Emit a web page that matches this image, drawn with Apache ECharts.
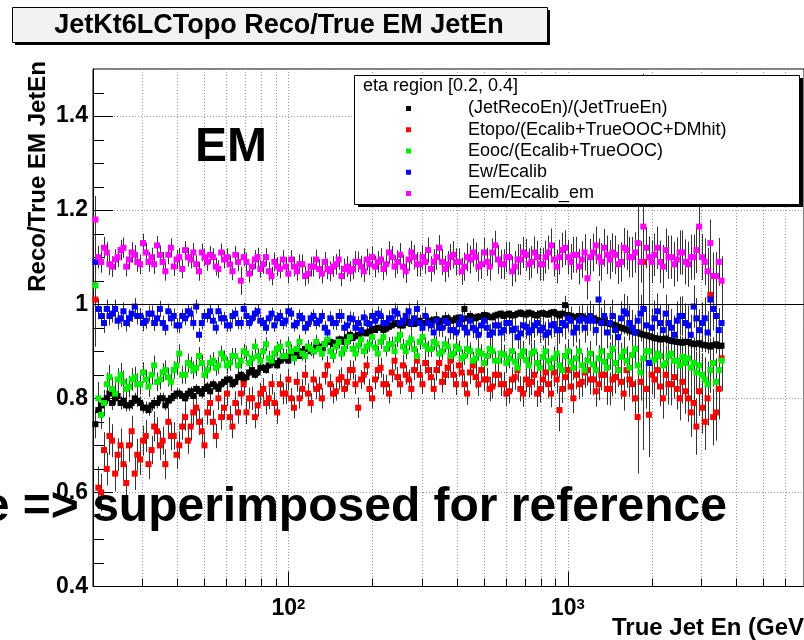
<!DOCTYPE html>
<html>
<head>
<meta charset="utf-8">
<script src="https://cdn.jsdelivr.net/npm/echarts@6/dist/echarts.min.js"></script>
<style>html,body{margin:0;padding:0;background:#fff}#c{width:804px;height:640px}</style>
</head>
<body>
<div id="c"></div>
<script>
// ---- data ----
const xs = [20.4,20.9,21.4,21.9,22.4,22.9,23.4,24.0,24.5,25.1,
25.7,26.3,26.9,27.5,28.2,28.8,29.5,30.2,30.9,31.6,
32.4,33.1,33.9,34.7,35.5,36.3,37.2,38.0,38.9,39.8,
40.7,41.7,42.7,43.7,44.7,45.7,46.8,47.9,49.0,50.1,
51.3,52.5,53.7,55.0,56.2,57.5,58.9,60.3,61.7,63.1,
64.6,66.1,67.6,69.2,70.8,72.4,74.1,75.9,77.6,79.4,
81.3,83.2,85.1,87.1,89.1,91.2,93.3,95.5,97.7,100,
102.3,104.7,107.2,109.6,112.2,114.8,117.5,120.2,123.0,125.9,
128.8,131.8,134.9,138.0,141.3,144.5,147.9,151.4,154.9,158.5,
162.2,166.0,169.8,173.8,177.8,182.0,186.2,190.5,195.0,199.5,
204.2,208.9,213.8,218.8,223.9,229.1,234.4,239.9,245.5,251.2,
257.0,263.0,269.2,275.4,281.8,288.4,295.1,302.0,309.0,316.2,
323.6,331.1,338.8,346.7,354.8,363.1,371.5,380.2,389.0,398.1,
407.4,416.9,426.6,436.5,446.7,457.1,467.7,478.6,489.8,501.2,
512.9,524.8,537.0,549.5,562.3,575.4,588.8,602.6,616.6,631.0,
645.7,660.7,676.1,691.8,707.9,724.4,741.3,758.6,776.2,794.3,
812.8,831.8,851.1,870.9,891.3,912.0,933.3,955.0,977.2,1000,
1023,1047,1072,1096,1122,1148,1175,1202,1230,1259,
1288,1318,1349,1380,1413,1445,1479,1514,1549,1585,
1622,1660,1698,1738,1778,1820,1862,1905,1950,1995,
2042,2089,2138,2188,2239,2291,2344,2399,2455,2512,
2570,2630,2692,2754,2818,2884,2951,3020,3090,3162,
3236,3311,3388,3467,3548];

const blackY = [.745,.775,.785,.795,.80,.81,.79,.80,.805,.79,
.795,.785,.785,.79,.80,.795,.79,.78,.78,.775,
.785,.79,.79,.80,.80,.785,.795,.80,.805,.81,
.81,.805,.80,.81,.815,.805,.82,.815,.81,.82,
.825,.815,.83,.825,.82,.83,.835,.84,.84,.83,
.835,.845,.85,.84,.845,.855,.86,.85,.855,.865,
.865,.86,.87,.875,.875,.87,.88,.885,.885,.88,
.89,.895,.895,.89,.90,.905,.905,.90,.90,.91,
.91,.905,.915,.92,.92,.915,.918,.925,.925,.92,
.93,.935,.928,.932,.935,.94,.94,.938,.942,.948,
.945,.95,.95,.945,.948,.952,.955,.958,.96,.955,
.955,.96,.962,.958,.958,.963,.965,.96,.96,.965,
.963,.967,.968,.962,.965,.97,.97,.965,.966,.97,
.972,.968,.99,.97,.975,.972,.97,.974,.973,.977,
.976,.973,.972,.976,.978,.98,.975,.978,.98,.976,
.977,.98,.982,.979,.978,.982,.98,.977,.976,.98,
.981,.979,.978,.982,.983,.979,.976,.98,.998,.977,
.975,.973,.972,.975,.974,.97,.968,.971,.97,.967,
.965,.963,.962,.96,.958,.957,.955,.952,.95,.948,
.946,.944,.942,.94,.94,.937,.935,.934,.932,.93,
.928,.927,.925,.926,.927,.924,.922,.921,.92,.919,
.918,.92,.92,.917,.915,.916,.917,.914,.913,.912,
.91,.913,.915,.911,.912];
const blackErr = [.03,.016,.015,.014,.012,.014,.015,.013,.012,.014,
.015,.013,.012,.014,.012,.013,.014,.012,.013,.012,
.012,.013,.011,.012,.012,.011,.012,.011,.011,.012,
.011,.01,.011,.012,.01,.011,.01,.011,.01,.011,
.01,.009,.01,.009,.01,.009,.009,.01,.009,.009,
.009,.008,.009,.008,.009,.008,.009,.008,.008,.009,
.008,.008,.007,.008,.008,.007,.008,.007,.007,.008,
.007,.007,.008,.007,.007,.007,.007,.007,.007,.007,
.007,.006,.007,.007,.006,.007,.007,.006,.007,.006,
.006,.007,.006,.006,.007,.006,.006,.006,.007,.006,
.006,.006,.006,.006,.006,.006,.006,.006,.006,.006,
.006,.006,.006,.006,.006,.006,.006,.006,.006,.006,
.006,.006,.006,.006,.007,.006,.006,.006,.006,.006,
.006,.006,.012,.006,.006,.007,.006,.007,.006,.007,
.007,.007,.006,.007,.007,.007,.006,.007,.007,.007,
.007,.007,.007,.008,.008,.007,.007,.008,.008,.007,
.008,.008,.007,.008,.008,.008,.008,.008,.02,.008,
.008,.009,.009,.009,.008,.009,.009,.01,.009,.01,
.01,.01,.01,.011,.011,.011,.012,.012,.012,.012,
.013,.013,.015,.014,.3,.016,.02,.016,.015,.015,
.012,.013,.012,.013,.013,.014,.012,.013,.014,.014,
.013,.014,.015,.014,.014,.015,.016,.015,.015,.016,
.018,.017,.02,.02,.02];

const redY = [1.01,.61,.60,.69,.65,.72,.71,.64,.68,.70,
.66,.62,.70,.73,.64,.68,.67,.71,.72,.66,
.69,.74,.73,.70,.71,.66,.75,.72,.72,.68,
.70,.74,.76,.71,.74,.77,.78,.75,.73,.70,
.77,.79,.75,.72,.80,.76,.78,.81,.76,.74,
.79,.77,.81,.83,.77,.80,.80,.76,.785,.81,
.82,.79,.80,.83,.79,.77,.83,.81,.81,.84,
.80,.78,.835,.80,.82,.85,.81,.79,.84,.82,
.825,.80,.85,.87,.83,.81,.815,.84,.845,.82,
.835,.86,.86,.83,.78,.84,.85,.87,.82,.80,
.84,.86,.865,.83,.83,.81,.855,.88,.845,.83,
.87,.85,.84,.82,.86,.88,.85,.83,.875,.86,
.845,.82,.86,.875,.835,.85,.865,.88,.85,.83,
.87,.855,.83,.81,.855,.87,.845,.83,.86,.84,
.84,.82,.825,.85,.85,.83,.83,.81,.815,.84,
.845,.86,.82,.81,.84,.83,.835,.85,.81,.82,
.84,.855,.83,.81,.855,.84,.775,.82,.845,.86,
.825,.80,.85,.83,.835,.855,.86,.84,.84,.815,
.83,.85,.85,.82,.82,.84,.845,.86,.835,.81,
.86,.84,.83,.80,.76,.835,1.09,.82,.765,.85,
.84,.86,.825,.80,.85,.83,.83,.845,.82,.80,
.835,.815,.80,.77,.79,.74,.815,.78,.75,.80,
1.02,.76,.77,.82,.885];
const redErr = [.1,.045,.04,.038,.035,.04,.035,.038,.035,.036,
.035,.04,.035,.033,.035,.034,.033,.032,.034,.032,
.03,.032,.03,.031,.03,.032,.03,.03,.029,.03,
.03,.028,.029,.028,.03,.028,.027,.028,.029,.027,
.026,.027,.025,.026,.025,.027,.025,.026,.024,.025,
.025,.024,.025,.024,.025,.023,.025,.024,.024,.023,
.023,.024,.023,.022,.023,.024,.022,.023,.022,.023,
.022,.023,.021,.022,.021,.022,.022,.021,.021,.022,
.021,.022,.021,.02,.022,.021,.02,.021,.021,.02,
.02,.021,.02,.021,.022,.02,.021,.02,.021,.022,
.021,.02,.021,.022,.02,.021,.021,.02,.022,.021,
.022,.021,.021,.022,.021,.022,.022,.021,.023,.022,
.022,.023,.022,.022,.023,.022,.023,.024,.023,.023,
.024,.023,.023,.024,.025,.024,.024,.025,.024,.025,
.025,.026,.025,.025,.026,.025,.026,.027,.026,.026,
.027,.026,.027,.028,.027,.028,.028,.027,.028,.029,
.029,.028,.03,.029,.03,.03,.045,.03,.031,.03,
.031,.032,.031,.032,.032,.033,.033,.032,.034,.033,
.034,.033,.035,.034,.035,.036,.035,.036,.037,.036,
.038,.037,.038,.04,.07,.04,.4,.042,.07,.042,
.04,.041,.042,.043,.044,.043,.045,.046,.044,.047,
.046,.048,.05,.052,.05,.06,.052,.055,.06,.058,
.09,.06,.06,.065,.07];

const greenY = [1.04,.80,.765,.79,.83,.845,.82,.81,.84,.85,
.835,.82,.825,.84,.845,.83,.83,.855,.84,.825,
.85,.87,.835,.84,.855,.86,.845,.835,.86,.87,
.895,.85,.85,.875,.87,.86,.865,.89,.875,.85,
.86,.875,.88,.865,.87,.895,.885,.87,.875,.89,
.89,.87,.88,.90,.895,.875,.885,.91,.89,.88,
.90,.915,.885,.88,.895,.905,.91,.89,.89,.915,
.90,.885,.905,.92,.895,.89,.91,.905,.90,.92,
.905,.895,.915,.925,.90,.89,.91,.92,.895,.905,
.92,.93,.905,.895,.912,.925,.90,.91,.915,.93,
.908,.895,.92,.93,.905,.915,.915,.90,.925,.935,
.91,.90,.918,.925,.905,.89,.92,.93,.912,.905,
.905,.92,.915,.895,.90,.915,.91,.89,.895,.91,
.905,.885,.89,.905,.90,.88,.885,.90,.895,.875,
.89,.905,.90,.88,.88,.895,.893,.875,.885,.90,
.878,.865,.89,.90,.882,.87,.895,.90,.875,.865,
.888,.90,.88,.865,.885,.895,.87,.86,.89,.90,
.878,.865,.885,.90,.87,.86,.88,.895,.872,.86,
.885,.90,.878,.865,.89,.905,.875,.86,.888,.90,
.88,.865,.892,.905,.87,.855,.885,.90,.90,.88,
.882,.895,.89,.87,.875,.89,.895,.88,.88,.87,
.888,.875,.885,.865,.875,.855,.87,.85,.84,.83,
.86,.875,.835,.86,.88];
const greenErr = [.09,.035,.03,.028,.025,.026,.025,.024,.024,.025,
.024,.023,.023,.024,.022,.023,.022,.022,.021,.022,
.021,.021,.02,.021,.02,.021,.02,.02,.019,.02,
.02,.019,.019,.02,.018,.019,.018,.019,.018,.018,
.018,.017,.018,.017,.018,.017,.017,.018,.017,.017,
.017,.016,.017,.016,.017,.016,.016,.017,.016,.016,
.016,.015,.016,.016,.015,.016,.015,.016,.015,.015,
.015,.015,.016,.015,.015,.015,.014,.015,.015,.015,
.015,.014,.015,.015,.014,.015,.015,.014,.015,.015,
.015,.015,.014,.015,.015,.015,.015,.015,.016,.015,
.015,.016,.015,.016,.016,.015,.016,.016,.016,.017,
.016,.017,.016,.017,.017,.016,.017,.017,.018,.017,
.017,.018,.017,.018,.018,.017,.018,.018,.019,.018,
.018,.019,.019,.018,.019,.019,.02,.019,.02,.02,
.02,.02,.021,.02,.021,.021,.021,.022,.021,.022,
.022,.022,.023,.022,.023,.023,.023,.024,.023,.024,
.024,.024,.025,.024,.025,.025,.025,.026,.025,.026,
.026,.026,.027,.027,.026,.027,.028,.027,.028,.028,
.028,.029,.029,.03,.029,.03,.03,.031,.03,.031,
.031,.032,.032,.033,.034,.033,.035,.06,.035,.036,
.035,.036,.037,.036,.037,.038,.038,.039,.04,.039,
.04,.041,.042,.042,.043,.044,.045,.046,.047,.048,
.048,.05,.05,.052,.055];

const blueY = [1.09,.99,.975,.96,.99,.975,.98,.99,.965,.97,
.985,.96,.97,.98,.995,.975,.975,.96,.965,.98,
.98,.96,.97,.99,.96,.95,.985,.97,.975,.955,
.955,.975,.97,.985,.98,.96,.995,.935,.96,.975,
.975,.985,.965,.95,.985,.97,.97,.955,.955,.975,
.98,.96,.96,.99,.975,.96,.97,.98,.985,.965,
.96,.95,.97,.98,.955,.97,.975,.96,.965,.985,
.98,.955,.96,.975,.97,.95,.958,.97,.975,.96,
.965,.975,.95,.94,.97,.96,.96,.975,.975,.95,
.955,.97,.968,.95,.96,.945,.972,.96,.958,.975,
.965,.98,.975,.96,.96,.97,.97,.985,.98,.96,
.965,.975,.985,.96,.97,.99,.96,.95,.975,.96,
.955,.94,.965,.95,.95,.965,.96,.945,.945,.94,
.958,.97,.95,.94,.965,.95,.945,.935,.955,.965,
.95,.935,.94,.955,.955,.94,.945,.96,.96,.945,
.948,.93,.938,.955,.952,.94,.945,.955,.96,.945,
.95,.935,.94,.955,.958,.945,.945,.96,.955,.97,
.965,.94,.95,.965,.97,.95,.965,.975,.965,.945,
1.01,.96,.975,.94,.96,.975,.945,.93,.97,.985,
.98,.96,.95,.94,.965,.98,.99,.955,.875,.95,
.97,.985,.96,.945,.98,.96,.95,.935,.965,.975,
.975,.96,.955,.935,.995,.97,.945,.96,.97,.94,
1.01,.99,.975,.945,.96];
const blueErr = [.1,.022,.02,.021,.02,.02,.019,.02,.019,.019,
.019,.018,.019,.018,.018,.018,.017,.018,.017,.017,
.017,.017,.016,.017,.016,.016,.016,.016,.016,.015,
.016,.015,.015,.015,.015,.015,.015,.015,.014,.015,
.014,.015,.014,.014,.014,.014,.014,.014,.013,.014,
.014,.013,.014,.013,.014,.013,.013,.014,.013,.013,
.013,.014,.013,.013,.014,.013,.014,.013,.014,.013,
.014,.013,.014,.014,.013,.014,.014,.014,.014,.014,
.014,.014,.015,.014,.015,.014,.015,.015,.015,.015,
.015,.015,.015,.016,.015,.016,.016,.015,.016,.016,
.016,.016,.016,.017,.016,.017,.017,.017,.017,.017,
.017,.018,.017,.018,.018,.018,.018,.018,.019,.018,
.019,.019,.019,.019,.02,.019,.02,.02,.02,.02,
.02,.021,.021,.021,.021,.022,.021,.022,.022,.022,
.022,.023,.023,.023,.023,.024,.024,.024,.024,.025,
.025,.025,.025,.026,.026,.026,.026,.027,.027,.027,
.027,.028,.028,.028,.028,.029,.029,.029,.03,.03,
.03,.03,.031,.031,.031,.032,.032,.032,.033,.033,
.04,.033,.034,.034,.035,.035,.035,.036,.036,.037,
.037,.037,.038,.038,.039,.04,.06,.04,.2,.041,
.038,.038,.039,.039,.04,.04,.04,.041,.041,.041,
.042,.042,.042,.043,.045,.043,.044,.044,.045,.045,
.05,.046,.046,.047,.047];

const magentaY = [1.18,1.10,1.09,1.12,1.11,1.085,1.08,1.095,1.10,1.115,
1.12,1.08,1.095,1.11,1.105,1.09,1.085,1.13,1.11,1.09,
1.10,1.085,1.125,1.105,1.09,1.07,1.105,1.12,1.08,1.095,
1.10,1.075,1.115,1.10,1.095,1.11,1.085,1.07,1.11,1.10,
1.09,1.105,1.10,1.08,1.075,1.11,1.095,1.10,1.085,1.07,
1.105,1.09,1.05,1.10,1.09,1.065,1.08,1.095,1.10,1.075,
1.085,1.10,1.07,1.06,1.09,1.08,1.075,1.095,1.08,1.065,
1.095,1.08,1.07,1.085,1.085,1.06,1.065,1.08,1.08,1.095,
1.075,1.065,1.09,1.075,1.07,1.08,1.085,1.095,1.06,1.075,
1.08,1.07,1.075,1.09,1.09,1.08,1.07,1.095,1.085,1.10,
1.08,1.09,1.095,1.075,1.085,1.11,1.10,1.08,1.09,1.105,
1.08,1.07,1.095,1.11,1.10,1.085,1.085,1.10,1.09,1.115,
1.075,1.09,1.10,1.12,1.09,1.075,1.085,1.10,1.105,1.09,
1.09,1.07,1.08,1.10,1.095,1.11,1.10,1.08,1.085,1.11,
1.09,1.08,1.11,1.125,1.095,1.085,1.085,1.10,1.10,1.07,
1.08,1.095,1.095,1.11,1.105,1.085,1.09,1.11,1.10,1.085,
1.085,1.10,1.11,1.125,1.095,1.08,1.10,1.115,1.12,1.10,
1.09,1.105,1.105,1.08,1.095,1.11,1.055,1.10,1.11,1.125,
1.10,1.09,1.12,1.105,1.095,1.11,1.105,1.085,1.09,1.12,
1.115,1.10,1.10,1.11,1.13,1.09,1.165,1.12,1.10,1.09,
1.105,1.12,1.09,1.08,1.115,1.10,1.10,1.085,1.095,1.11,
1.11,1.09,1.085,1.10,1.10,1.115,1.165,1.10,1.09,1.07,
1.13,1.06,1.06,1.09,1.05];
const magentaErr = [.05,.024,.023,.023,.022,.023,.022,.022,.021,.022,
.022,.021,.021,.022,.021,.021,.021,.02,.021,.021,
.02,.021,.02,.02,.021,.02,.02,.02,.02,.02,
.02,.02,.019,.02,.019,.02,.019,.02,.019,.019,
.019,.019,.019,.019,.019,.019,.019,.019,.019,.019,
.019,.02,.03,.019,.02,.019,.019,.02,.02,.019,
.02,.019,.02,.02,.02,.02,.02,.02,.02,.021,
.02,.021,.02,.021,.021,.021,.021,.021,.021,.021,
.021,.021,.021,.022,.021,.022,.022,.022,.022,.022,
.022,.022,.022,.023,.022,.023,.023,.023,.023,.023,
.023,.023,.024,.024,.024,.024,.024,.024,.025,.025,
.025,.025,.025,.025,.026,.026,.026,.026,.026,.027,
.027,.027,.027,.027,.028,.028,.028,.028,.029,.029,
.029,.029,.03,.03,.03,.03,.031,.031,.031,.031,
.03,.03,.03,.031,.031,.031,.032,.032,.032,.032,
.033,.033,.033,.033,.034,.034,.034,.034,.035,.035,
.035,.035,.036,.036,.036,.036,.037,.037,.037,.037,
.038,.038,.038,.038,.039,.039,.045,.039,.04,.04,
.04,.04,.04,.041,.041,.041,.041,.042,.042,.042,
.042,.043,.043,.043,.043,.044,.12,.044,.044,.045,
.045,.045,.045,.046,.046,.046,.046,.047,.047,.047,
.047,.048,.048,.048,.048,.049,.06,.049,.05,.05,
.05,.05,.051,.051,.052];

const seriesNames = ['(JetRecoEn)/(JetTrueEn)','Etopo/(Ecalib+TrueOOC+DMhit)','Eooc/(Ecalib+TrueOOC)','Ew/Ecalib','Eem/Ecalib_em'];
const xTicks = [30,40,50,60,70,80,90,100,200,300,400,500,600,700,800,900,1000,2000,3000,4000,5000,6000];
const xMajorTicks = [100,1000];
const yMinorTicks = [0.45,0.5,0.55,0.65,0.7,0.75,0.85,0.9,0.95,1.05,1.1,1.15,1.25,1.3,1.35,1.45];
const titleText = 'JetKt6LCTopo Reco/True EM JetEn';
const legendHeader = 'eta region [0.2, 0.4]';

// ---- styling ----
const F = 'Liberation Sans';
const colors = ['#000000','#ff0000','#00ee00','#0000ff','#ff00ff'];
const ys = [blackY, redY, greenY, blueY, magentaY];
const es = [blackErr, redErr, greenErr, blueErr, magentaErr];

const chart = echarts.init(document.getElementById('c'), null, {renderer:'canvas'});

function errRender(params, api) {
  const x = api.value(0), y = api.value(1), e = api.value(2);
  const a = api.coord([x, y + e]), b = api.coord([x, y - e]);
  const px = Math.round(a[0]) + 0.5;
  return {type:'line', shape:{x1:px, y1:a[1], x2:px, y2:b[1]}, style:{stroke:'#333', lineWidth:1}};
}
function xTickRender(params, api) {
  const v = api.value(0);
  const bot = api.coord([v, 0.4]), top = api.coord([v, 1.5]);
  const px = Math.round(bot[0]) + 0.5;
  const len = xMajorTicks.indexOf(v) >= 0 ? 15 : 8;
  return {type:'group', children:[
    {type:'line', shape:{x1:px, y1:top[1], x2:px, y2:bot[1]}, style:{stroke:'#999', lineWidth:1, lineDash:[1,2]}},
    {type:'line', shape:{x1:px, y1:bot[1], x2:px, y2:bot[1]-len}, style:{stroke:'#000', lineWidth:1}}
  ]};
}
function yTickRender(params, api) {
  const p = api.coord([api.value(0), api.value(1)]);
  const py = Math.round(p[1]) + 0.5;
  return {type:'line', shape:{x1:p[0], y1:py, x2:p[0]+11, y2:py}, style:{stroke:'#000', lineWidth:1}};
}

const series = [
  {type:'custom', name:'xgrid', z:1, renderItem:xTickRender, data:xTicks.map(v=>[v,0.4]), encode:{x:0,y:1}, silent:true},
  {type:'custom', name:'yminor', z:1, renderItem:yTickRender, data:yMinorTicks.map(v=>[20,v]), encode:{x:0,y:1}, silent:true}
];
for (let s = 0; s < 5; s++) {
  series.push({type:'custom', name:'err'+s, z:2, clip:true, renderItem:errRender,
    data: xs.map((x,i)=>[x, ys[s][i], es[s][i]]), encode:{x:0,y:1}, silent:true});
  const sc = {type:'scatter', name:seriesNames[s], z:2, symbol:'rect', symbolSize:6,
    itemStyle:{color:colors[s], opacity:1}, data: xs.map((x,i)=>[x, ys[s][i]]), silent:true};
  if (s === 0) {
    sc.markLine = {silent:true, symbol:'none', label:{show:false}, animation:false,
      lineStyle:{color:'#000', width:1, type:'solid'}, data:[{yAxis:1}]};
  }
  series.push(sc);
}

const option = {
  animation:false,
  backgroundColor:'#ffffff',
  grid:{left:93, top:69, right:-7.6, bottom:53.5, show:true, borderColor:'#000', borderWidth:1, containLabel:false},
  xAxis:{type:'log', logBase:10, min:20, max:7000,
    axisLine:{show:true, lineStyle:{color:'#000', width:1}},
    axisTick:{show:false}, splitLine:{show:false}, minorTick:{show:false}, minorSplitLine:{show:false},
    axisLabel:{show:true, margin:11, showMinLabel:false, showMaxLabel:false,
      formatter:function(v){ const l = Math.log10(v); const e = Math.round(l); return Math.abs(l-e) < 1e-6 ? '{b|10}{s|'+e+'}' : ''; },
      rich:{ b:{fontFamily:F, fontSize:23, fontWeight:'bold', color:'#000'},
             s:{fontFamily:F, fontSize:15, fontWeight:'bold', color:'#000', verticalAlign:'top'} } }
  },
  yAxis:{type:'value', min:0.4, max:1.5, interval:0.2,
    axisLine:{show:true, lineStyle:{color:'#000', width:1}},
    axisTick:{show:true, inside:true, length:20, lineStyle:{color:'#000'}},
    minorTick:{show:false},
    splitLine:{show:true, lineStyle:{color:'#999', type:[1,2], width:1}},
    axisLabel:{show:true, margin:5, showMaxLabel:false, fontFamily:F, fontSize:23, fontWeight:'bold', color:'#000'}
  },
  legend:{show:true, z:101, data:seriesNames, selectedMode:false, orient:'vertical', left:406, top:98, padding:0,
    itemGap:0.25, itemWidth:5, itemHeight:5, icon:'rect',
    textStyle:{fontFamily:F, fontSize:18, color:'#000', lineHeight:21, padding:[0,0,0,52]}},
  graphic:[
    {type:'rect', z:100, shape:{x:15, y:10, width:535, height:35}, style:{fill:'#000'}},
    {type:'rect', z:100, shape:{x:12.5, y:7.5, width:535, height:35}, style:{fill:'#f2f2f2', stroke:'#000', lineWidth:1}},
    {type:'text', z:100, x:279, y:26, style:{text:titleText, fontFamily:F, fontSize:27, fontWeight:'bold', fill:'#000', align:'center', verticalAlign:'middle'}},
    {type:'rect', z:100, shape:{x:358, y:78, width:445, height:129}, style:{fill:'#000'}},
    {type:'rect', z:100, shape:{x:354.5, y:75.5, width:445, height:129}, style:{fill:'#fff', stroke:'#000', lineWidth:1}},
    {type:'text', z:101, x:363, y:86, style:{text:legendHeader, fontFamily:F, fontSize:18, fill:'#000', align:'left', verticalAlign:'middle'}},
    {type:'text', z:200, x:195, y:148, style:{text:'EM', fontFamily:F, fontSize:48, fontWeight:'bold', fill:'#000', align:'left', verticalAlign:'middle'}},
    {type:'text', z:200, x:727, y:508, style:{text:'e => superimposed for reference', fontFamily:F, fontSize:48, fontWeight:'bold', fill:'#000', align:'right', verticalAlign:'middle'}},
    {type:'text', z:100, x:38, y:61, rotation:Math.PI/2, style:{text:'Reco/True EM JetEn', fontFamily:F, fontSize:24, fontWeight:'bold', fill:'#000', align:'right', verticalAlign:'middle'}},
    {type:'text', z:100, x:812, y:628, style:{text:'True Jet En (GeV)', fontFamily:F, fontSize:24, fontWeight:'bold', fill:'#000', align:'right', verticalAlign:'middle'}}
  ],
  series: series
};
chart.setOption(option);
</script>
</body>
</html>
